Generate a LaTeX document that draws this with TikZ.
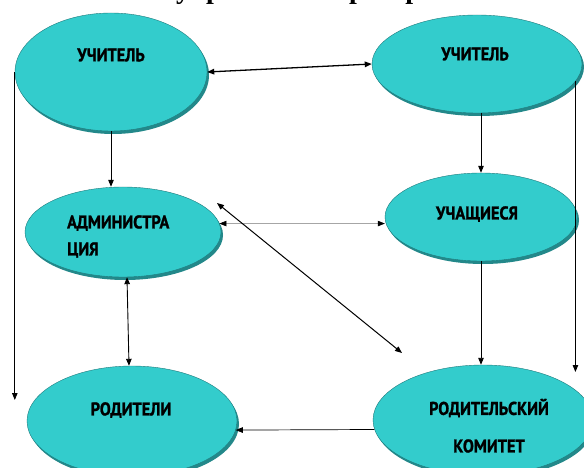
\documentclass[tikz,border=0pt]{standalone}
\usepackage{fontspec}
\setmainfont{Liberation Serif}
\newfontfamily\lblfont{PT Sans}[FakeStretch=0.88,FakeBold=1.2]
\usetikzlibrary{shapes.geometric,arrows.meta,calc}
\definecolor{bubfill}{HTML}{33CCCC}
\definecolor{bubshadow}{HTML}{23888A}
\definecolor{bubedge}{HTML}{1E7A7C}
\newcommand\bubble[5]{%
  \node[bubshad, minimum width=#4pt, minimum height=#5pt] (#1s) at ($(#2,#3)+(2,3)$) {};
  \node[bub, minimum width=#4pt, minimum height=#5pt] (#1) at (#2,#3) {};}
\begin{document}
\begin{tikzpicture}[x=1pt,y=-1pt,
  bub/.style={ellipse, fill=bubfill, draw=bubedge, line width=0.4pt, inner sep=0pt},
  bubshad/.style={ellipse, fill=bubshadow, inner sep=0pt},
  lbl/.style={font=\lblfont\bfseries\fontsize{18.5}{21}\selectfont, text=black, inner sep=0pt},
  arr/.style={-{Triangle[length=7pt,width=5.5pt]}, line width=0.9pt, black},
  darr/.style={{Triangle[length=7pt,width=5.5pt]}-{Triangle[length=7pt,width=5.5pt]}, line width=0.9pt, black},
  garr/.style={{Triangle[length=7pt,width=5.5pt,color=black]}-{Triangle[length=7pt,width=5.5pt,color=black]}, line width=0.5pt, draw=gray!70},
  titlefont/.style={font=\bfseries\fontsize{28}{30}\selectfont, inner sep=0pt}]
\useasboundingbox (0,0) rectangle (584,468);
\fill[white] (0,0) rectangle (584,468);
\clip (0,0) rectangle (584,468);
% title (cut off at the top edge, as in the reference)
\node[titlefont, anchor=base] (title) at (293,-1) {Система управления пространством};
% bubbles
\bubble{e1}{111}{72}{192}{118}
\bubble{e2}{477}{64}{210}{98}
\bubble{e3}{123}{232}{196}{90}
\bubble{e4}{481}{217}{192}{88}
\bubble{e5}{132}{421}{210}{110}
\bubble{e6}{483}{420}{220}{110}
% labels
\node[lbl] (t1) at (111,55) {УЧИТЕЛЬ};
\node[lbl] (t2) at (475,54) {УЧИТЕЛЬ};
\node[lbl, anchor=west] (t3a) at (67,223) {АДМИНИСТРА};
\node[lbl, anchor=west] (t3b) at (67,250) {ЦИЯ};
\node[lbl] (t4) at (477,214) {УЧАЩИЕСЯ};
\node[lbl] (t5) at (131,410) {РОДИТЕЛИ};
\node[lbl] (t6a) at (489,408) {РОДИТЕЛЬСКИЙ};
\node[lbl] (t6b) at (489,446) {КОМИТЕТ};
% free ends
\coordinate (lend) at (14,400);
\coordinate (rend) at (575,372);
\coordinate (dA) at (217,203);
\coordinate (dB) at (402,353);
% connectors
\draw[darr, line width=1.3pt] (e1.east) -- (e2.west);
\draw[arr] (e1.south) -- (e1.south |- e3.north);
\draw[arr] (e1.west) -- (e1.west |- lend);
\draw[arr] (e4.north |- e2.south) -- (e4.north);
\draw[arr] (e2.-10) -- (e2.-10 |- rend);
\draw[garr] (e3.5) -- (e3.5 -| e4.west);
\draw[darr, line width=1pt] (dA) -- (dB);
\draw[darr] ([xshift=4pt]e3.south) -- ([xshift=-3pt]e5.north);
\draw[arr] (e4.south) -- (e4.south |- e6.north);
\draw[arr, line width=0.7pt] (e6.185) -- (e5.-5);
\end{tikzpicture}
\end{document}
